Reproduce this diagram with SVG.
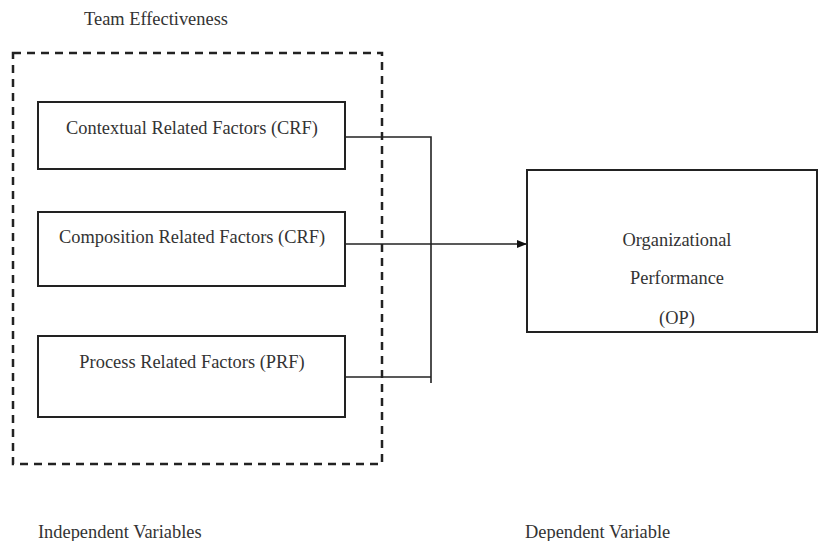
<svg xmlns="http://www.w3.org/2000/svg" width="818" height="541" viewBox="0 0 818 541">
  <defs>
    <marker id="arrow" viewBox="0 0 10 10" refX="10" refY="5" markerWidth="10" markerHeight="10" markerUnits="userSpaceOnUse" orient="auto">
      <path d="M0,1 L10,5 L0,9 Z" fill="#111"/>
    </marker>
  </defs>
  <style>
    .box { fill: #fff; stroke: #222; stroke-width: 2; }
    .group { fill: none; stroke: #222; stroke-width: 2.5; stroke-dasharray: 8 6; }
    .wire { fill: none; stroke: #222; stroke-width: 1.6; }
    .t { font-family: "Liberation Serif", serif; font-size: 18.4px; fill: #333; }
    .m { text-anchor: middle; }
  </style>
  <rect width="818" height="541" fill="#fff"/>

  <text class="t m" x="156" y="25">Team Effectiveness</text>
  <rect class="group" x="13" y="53" width="369" height="411"/>

  <g id="connectors">
    <polyline class="wire" points="345,137 431,137 431,383"/>
    <line class="wire" x1="345" y1="377" x2="431" y2="377"/>
    <line class="wire" x1="345" y1="244" x2="527" y2="244" marker-end="url(#arrow)"/>
  </g>

  <g id="crf-context">
    <rect class="box" x="38" y="102" width="307" height="67"/>
    <text class="t m" x="192" y="134">Contextual Related Factors (CRF)</text>
  </g>
  <g id="crf-composition">
    <rect class="box" x="38" y="212" width="307" height="74"/>
    <text class="t m" x="192" y="243">Composition Related Factors (CRF)</text>
  </g>
  <g id="prf">
    <rect class="box" x="38" y="336" width="307" height="81"/>
    <text class="t m" x="192" y="368">Process Related Factors (PRF)</text>
  </g>
  <g id="op">
    <rect class="box" x="527" y="170" width="290" height="162"/>
    <text class="t m" x="677" y="246">Organizational</text>
    <text class="t m" x="677" y="284">Performance</text>
    <text class="t m" x="677" y="324">(OP)</text>
  </g>

  <text class="t" x="38" y="538">Independent Variables</text>
  <text class="t" x="525" y="538">Dependent Variable</text>
</svg>
